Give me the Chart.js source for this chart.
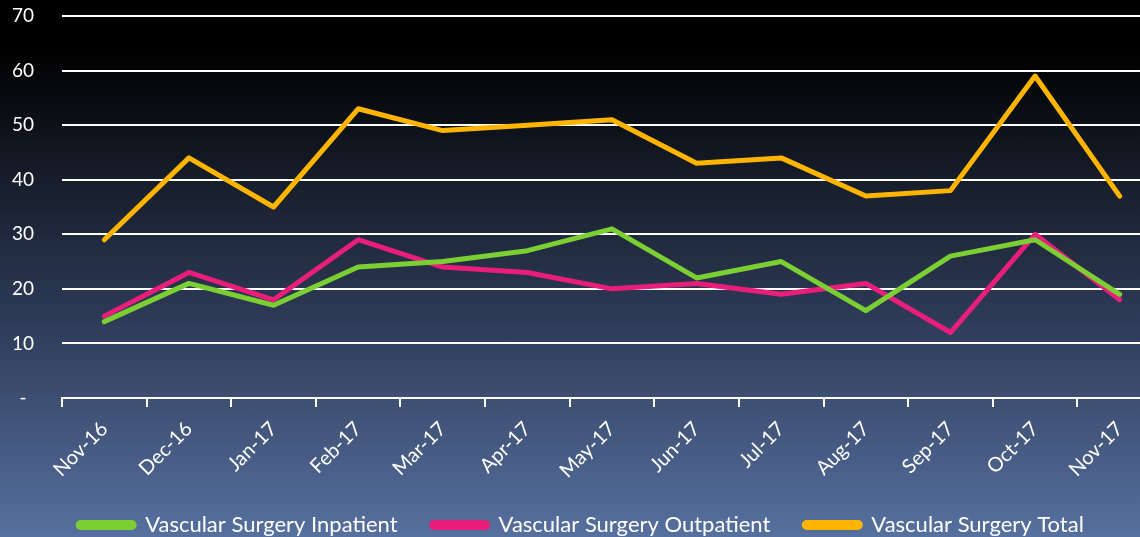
<!DOCTYPE html>
<html>
<head>
<meta charset="utf-8">
<script src="https://cdn.jsdelivr.net/npm/chart.js@4"></script>
<style>
  html, body { margin: 0; padding: 0; overflow: hidden; }
  body {
    width: 1140px; height: 537px;
    background: linear-gradient(to bottom, #000 0px, #000 50px, #151b27 170px, #2e3b58 320px, #415479 420px, #56709f 537px);
  }
  #wrap { position: relative; width: 1162px; height: 537px; }
</style>
</head>
<body>
<div id="wrap"><canvas id="myChart" width="1162" height="537"></canvas></div>
<script>
const months = ["Nov-16", "Dec-16", "Jan-17", "Feb-17", "Mar-17", "Apr-17", "May-17",
                "Jun-17", "Jul-17", "Aug-17", "Sep-17", "Oct-17", "Nov-17"];
const inpatient = [14, 21, 17, 24, 25, 27, 31, 22, 25, 16, 26, 29, 19];
const outpatient = [15, 23, 18, 29, 24, 23, 20, 21, 19, 21, 12, 30, 18];
const total = [29, 44, 35, 53, 49, 50, 51, 43, 44, 37, 38, 59, 37];
const yTicks = [0, 10, 20, 30, 40, 50, 60, 70];

const FONT = "Lato, 'Open Sans', sans-serif";

function series(label, values, color) {
    return {
        label: label,
        data: values,
        borderColor: color,
        backgroundColor: color,
        borderWidth: 5,
        pointRadius: 0,
        tension: 0,
        borderCapStyle: 'round',
        borderJoinStyle: 'round'
    };
}

const ctx = document.getElementById("myChart");
const myLineChart = new Chart(ctx, {
    type: 'line',
    data: {
        labels: months,
        datasets: [
            series("Vascular Surgery Inpatient", inpatient, "#7ccf33"),
            series("Vascular Surgery Outpatient", outpatient, "#e91e7a"),
            series("Vascular Surgery Total", total, "#ffb400")
        ]
    },
    options: {
        responsive: false,
        animation: false,
        layout: { padding: { top: 16, left: 0, right: 0, bottom: -9 } },
        plugins: {
            tooltip: { enabled: false },
            legend: {
                display: true,
                position: 'bottom',
                labels: {
                    color: '#ffffff',
                    font: { family: FONT, size: 22 },
                    boxWidth: 56,
                    boxHeight: 5,
                    useBorderRadius: true,
                    borderRadius: 2.5,
                    padding: 34
                }
            }
        },
        scales: {
            x: {
                offset: true,
                border: { display: true, color: '#ffffff', width: 2 },
                grid: {
                    offset: true,
                    display: true,
                    drawOnChartArea: false,
                    drawTicks: true,
                    tickLength: 9,
                    color: '#ffffff',
                    lineWidth: 2
                },
                ticks: {
                    color: '#ffffff',
                    font: { family: FONT, size: 20 },
                    maxRotation: 45,
                    minRotation: 45,
                    padding: 10
                },
                afterFit: function (scale) { scale.height = 82; }
            },
            y: {
                min: 0,
                max: 70,
                border: { display: false },
                grid: {
                    color: '#ffffff',
                    lineWidth: 2,
                    drawTicks: false
                },
                afterBuildTicks: function (scale) {
                    scale.ticks = yTicks.map(v => ({ value: v }));
                },
                ticks: {
                    color: '#ffffff',
                    font: { family: FONT, size: 19 },
                    crossAlign: 'center',
                    padding: 28,
                    callback: function (v) { return v === 0 ? '-' : v; }
                },
                afterFit: function (scale) {
                    // keep the plot flush with the top; labels may overhang
                    scale.width = 62;
                    scale.paddingTop = 0;
                    scale.paddingBottom = 0;
                }
            }
        }
    }
});
</script>
</body>
</html>
